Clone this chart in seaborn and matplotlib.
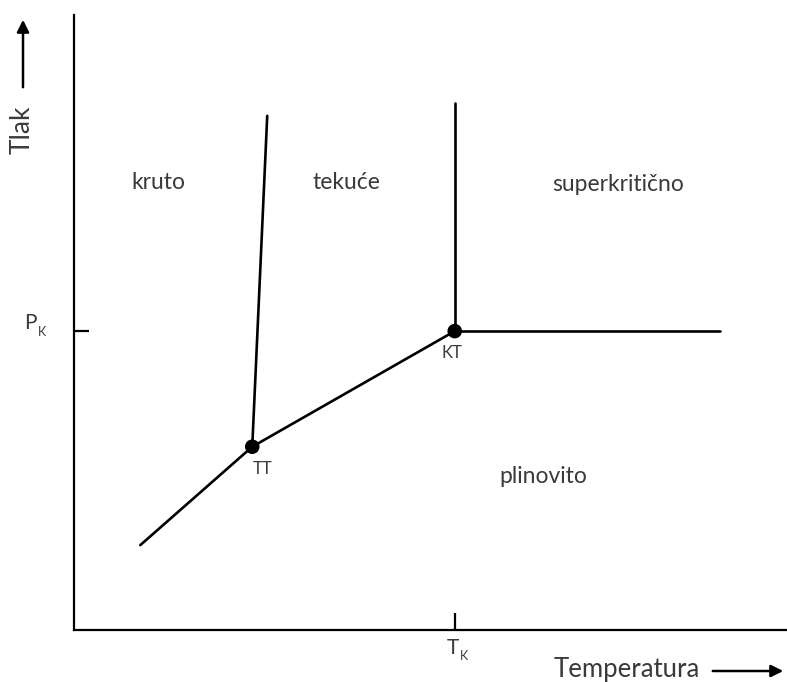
import matplotlib
matplotlib.use('Agg')
import matplotlib.pyplot as plt
import seaborn as sns
import pandas as pd

sns.set_theme(style='white')
plt.rcParams['font.family'] = ['Lato', 'DejaVu Sans']

# phase boundaries (arbitrary units, T on x, p on y)
sublimation_T = [9.3, 25.0]
sublimation_p = [13.8, 29.8]
melting_T = [25.0, 27.1]
melting_p = [29.8, 83.6]
vapor_T = [25.0, 53.4]
vapor_p = [29.8, 48.6]
super_v_T = [53.4, 53.4]
super_v_p = [48.6, 85.7]
super_h_T = [53.4, 90.6]
super_h_p = [48.6, 48.6]

point_names = ['TT', 'KT']
point_T = [25.0, 53.4]
point_p = [29.8, 48.6]

regions = ['kruto', 'tekuće', 'superkritično', 'plinovito']
region_T = [11.8, 38.2, 76.3, 65.8]
region_p = [72.7, 72.7, 72.4, 25.0]

txt_col = '#3a3a3a'

fig = plt.figure(figsize=(7.87, 6.82), dpi=100)
ax = fig.add_axes([74 / 787, 52 / 682, 713 / 787, 615 / 682])

segments = [(sublimation_T, sublimation_p), (melting_T, melting_p), (vapor_T, vapor_p),
            (super_v_T, super_v_p), (super_h_T, super_h_p)]
for T, p in segments:
    df = pd.DataFrame({'T': T, 'p': p})
    sns.lineplot(data=df, x='T', y='p', sort=False, estimator=None, color='black', lw=1.9, ax=ax)

pts = pd.DataFrame({'T': point_T, 'p': point_p, 'name': point_names})
sns.scatterplot(data=pts, x='T', y='p', color='black', s=110, edgecolor='none', zorder=5, ax=ax)

for name, T, p in zip(point_names, point_T, point_p):
    dx = 1.4 if name == 'TT' else -0.4
    ax.text(T + dx, p - 3.6, name, ha='center', va='center', fontsize=12, color=txt_col)

for name, T, p in zip(regions, region_T, region_p):
    ax.text(T, p, name, ha='center', va='center', fontsize=16.5, color=txt_col)

ax.set_xlim(0, 100)
ax.set_ylim(0, 100)
ax.set_xlabel('')
ax.set_ylabel('')
for s in ['top', 'right']:
    ax.spines[s].set_visible(False)
for s in ['left', 'bottom']:
    ax.spines[s].set_color('black')
    ax.spines[s].set_linewidth(1.6)

ax.set_xticks([point_T[1]])
ax.set_yticks([point_p[1]])
ax.set_xticklabels([])
ax.set_yticklabels([])
ax.tick_params(axis='x', direction='in', length=12, width=1.6, color='black', bottom=True)
ax.tick_params(axis='y', direction='in', length=11, width=1.6, color='black', left=True)

# critical point labels on the axes
ax.text(point_T[1] + 0.6, -3.0, 'T', ha='right', va='center', fontsize=15, color=txt_col, clip_on=False)
ax.text(point_T[1] + 0.7, -4.2, 'K', ha='left', va='center', fontsize=9, color=txt_col, clip_on=False)
ax.text(-5.2, point_p[1] + 1.3, 'P', ha='right', va='center', fontsize=15, color=txt_col, clip_on=False)
ax.text(-5.1, point_p[1] - 0.1, 'K', ha='left', va='center', fontsize=9, color=txt_col, clip_on=False)

# axis titles with arrows
fig.text(627 / 787, 1 - 669 / 682, 'Temperatura', ha='center', va='center', fontsize=18.5, color=txt_col)
fig.text(22 / 787, 1 - 130 / 682, 'Tlak', ha='center', va='center', rotation=90, fontsize=19, color=txt_col)
fig.patches.append(matplotlib.patches.FancyArrowPatch(
    (710 / 787, 1 - 671 / 682), (786 / 787, 1 - 671 / 682), transform=fig.transFigure,
    arrowstyle='-|>', mutation_scale=18, lw=1.8, color='black'))
fig.patches.append(matplotlib.patches.FancyArrowPatch(
    (23 / 787, 1 - 90 / 682), (23 / 787, 1 - 17 / 682), transform=fig.transFigure,
    arrowstyle='-|>', mutation_scale=18, lw=1.8, color='black'))

fig.savefig('out.png', dpi=100)
